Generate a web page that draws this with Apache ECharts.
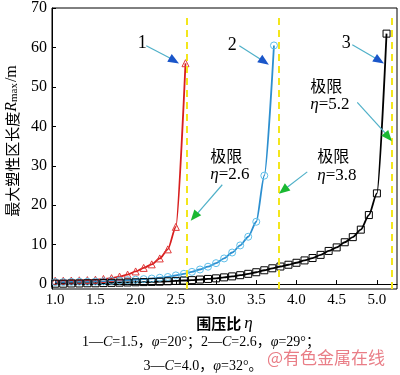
<!DOCTYPE html>
<html>
<head>
<meta charset="utf-8">
<script src="https://cdn.jsdelivr.net/npm/echarts@6/dist/echarts.min.js"></script>
<style>
  html, body { margin: 0; padding: 0; background: #fff; }
  #chart { width: 400px; height: 375px; }
</style>
</head>
<body>
<div id="chart"></div>
<script>
// curve 1: C=1.5, phi=20
const etaRed = [1.0, 1.1, 1.2, 1.3, 1.4, 1.5, 1.6, 1.7, 1.8, 1.9, 2.0, 2.1, 2.2, 2.3, 2.4, 2.5, 2.62];
const rRed = [0.85, 0.85, 0.9, 0.95, 1.0, 1.1, 1.3, 1.5, 1.9, 2.4, 3.2, 4.1, 5.0, 6.5, 8.8, 14.5, 56];

// curve 2: C=2.6, phi=29
const etaBlue = [1.0, 1.1, 1.2, 1.3, 1.4, 1.5, 1.6, 1.7, 1.8, 1.9,
  2.0, 2.1, 2.2, 2.3, 2.4, 2.5, 2.6, 2.7, 2.8, 2.9,
  3.0, 3.1, 3.2, 3.3, 3.4, 3.5, 3.6, 3.72];
const rBlue = [0.5, 0.5, 0.55, 0.6, 0.6, 0.65, 0.7, 0.8, 0.9, 1.0,
  1.1, 1.25, 1.4, 1.6, 1.8, 2.2, 2.6, 3.1, 3.7, 4.4,
  5.3, 6.5, 8.0, 9.8, 12.0, 15.8, 27.5, 60.5];

// curve 3: C=4.0, phi=32
const etaBlack = [1.0, 1.1, 1.2, 1.3, 1.4, 1.5, 1.6, 1.7, 1.8, 1.9,
  2.0, 2.1, 2.2, 2.3, 2.4, 2.5, 2.6, 2.7, 2.8, 2.9,
  3.0, 3.1, 3.2, 3.3, 3.4, 3.5, 3.6, 3.7, 3.8, 3.9,
  4.0, 4.1, 4.2, 4.3, 4.4, 4.5, 4.6, 4.7, 4.8, 4.9,
  5.0, 5.12];
const rBlack = [0.1, 0.1, 0.15, 0.15, 0.2, 0.2, 0.25, 0.3, 0.35, 0.4,
  0.45, 0.5, 0.55, 0.6, 0.7, 0.8, 0.9, 1.0, 1.15, 1.3,
  1.45, 1.7, 1.95, 2.25, 2.6, 3.0, 3.5, 4.0, 4.45, 4.9,
  5.4, 6.0, 6.6, 7.4, 8.4, 9.3, 10.6, 11.9, 13.8, 17.5,
  23.0, 63.5];

// limit lines
const limitEta = [2.63, 3.78, 5.18];
const limitText = ['2.6', '3.8', '5.2'];

const xTicks = [1.0, 1.5, 2.0, 2.5, 3.0, 3.5, 4.0, 4.5, 5.0];
const yTicks = [0, 10, 20, 30, 40, 50, 60, 70];

const serif = '"Liberation Serif", "DejaVu Serif", serif';
const cjk = '"Noto Sans CJK SC", sans-serif';
const mixed = '"Liberation Serif", "Noto Sans CJK SC", serif';

const zip = (xs, ys) => xs.map((x, i) => [x, ys[i]]);

const curve = (name, xs, ys, color, markerColor, symbol) => ({
  name: name,
  type: 'line',
  data: zip(xs, ys),
  smooth: 0.25,
  smoothMonotone: 'x',
  symbol: symbol,
  symbolSize: 7,
  lineStyle: { color: color, width: 1.8 },
  itemStyle: { color: 'rgba(0,0,0,0)', borderColor: markerColor, borderWidth: 1 },
  z: 3,
});

const arrowLines = [
  [[2.132, 60.42], [2.443, 57.15]],
  [[3.289, 60.42], [3.562, 56.9]],
  [[4.694, 60.67], [4.993, 57.15]],
  [[3.077, 25.18], [2.766, 17.87]],
  [[4.134, 28.45], [3.861, 24.17]],
  [[4.756, 46.07], [5.104, 38.27]],
];
const arrowHeads = [
  { coord: [2.480, 56.65], rot: -120, color: '#1a56c9' },
  { coord: [3.600, 56.4], rot: -124, color: '#1a56c9' },
  { coord: [5.030, 56.65], rot: -122, color: '#1a56c9' },
  { coord: [2.729, 17.12], rot: 140, color: '#19b832' },
  { coord: [3.836, 23.79], rot: 128, color: '#19b832' },
  { coord: [5.142, 37.26], rot: -140, color: '#19b832' },
];
const numLabels = [
  { coord: [2.082, 61.18], text: '1' },
  { coord: [3.201, 60.67], text: '2' },
  { coord: [4.619, 61.18], text: '3' },
];
const limitLabelPos = [[2.928, 30.2], [4.259, 29.96], [4.172, 47.83]];

const option = {
  backgroundColor: '#fff',
  animation: false,
  grid: {
    left: 52, right: 3, top: 6, bottom: 86,
    show: true, borderColor: '#000', borderWidth: 1, backgroundColor: '#fff',
  },
  xAxis: {
    type: 'value',
    min: 0.96, max: 5.25,
    splitLine: { show: false },
    axisLine: { lineStyle: { color: '#000', width: 1 } },
    axisTick: { inside: true, length: 4, customValues: xTicks, lineStyle: { color: '#000' } },
    axisLabel: {
      customValues: xTicks, margin: 4, color: '#000', fontFamily: serif, fontSize: 15,
      formatter: v => v.toFixed(1),
    },
    name: '{a|围压比}{i|η}',
    nameLocation: 'middle',
    nameGap: 26,
    nameTextStyle: {
      rich: {
        a: { fontFamily: cjk, fontSize: 15, fontWeight: 'bold', color: '#000' },
        i: { fontFamily: serif, fontSize: 17, fontStyle: 'italic', color: '#000', padding: [0, 0, 0, 3] },
      },
    },
  },
  yAxis: {
    type: 'value',
    min: -1.25, max: 70,
    splitLine: { show: false },
    axisLine: { show: true, lineStyle: { color: '#000', width: 1 } },
    axisTick: { show: true, inside: true, length: 4, customValues: yTicks, lineStyle: { color: '#000' } },
    axisLabel: { customValues: yTicks, margin: 5, color: '#000', fontFamily: serif, fontSize: 16 },
  },
  series: [
    curve('1', etaRed, rRed, '#d81e1e', '#e03a3a', 'triangle'),
    curve('2', etaBlue, rBlue, '#2c8fd0', '#5fc0ea', 'circle'),
    curve('3', etaBlack, rBlack, '#000', '#000', 'rect'),
    {
      name: 'notes',
      type: 'line',
      data: [],
      silent: true,
      z: 4,
      markLine: {
        silent: true,
        animation: false,
        symbol: ['none', 'none'],
        label: { show: false },
        data: limitEta.map(e => [
          { coord: [e, -1.25], lineStyle: { color: '#f3e61c', width: 2, type: [7, 5] } },
          { coord: [e, 68.5] },
        ]).concat(arrowLines.map(l => [
          { coord: l[0], lineStyle: { color: '#4fb0c8', width: 1.2, type: 'solid' } },
          { coord: l[1] },
        ])),
      },
      markPoint: {
        silent: true,
        animation: false,
        data: arrowHeads.map(h => ({
          coord: h.coord,
          symbol: 'triangle',
          symbolSize: [9, 11],
          symbolRotate: h.rot,
          itemStyle: { color: h.color },
          label: { show: false },
        })).concat(numLabels.map(n => ({
          coord: n.coord,
          symbol: 'circle',
          symbolSize: 0,
          label: {
            show: true, position: 'inside', formatter: n.text,
            color: '#000', fontFamily: serif, fontSize: 18,
          },
        }))).concat(limitLabelPos.map((p, i) => ({
          coord: p,
          symbol: 'circle',
          symbolSize: 0,
          label: {
            show: true, position: 'right', distance: 0,
            formatter: '{c|极限}\n{i|η}{n|=' + limitText[i] + '}',
            rich: {
              c: { fontFamily: cjk, fontSize: 16, color: '#000', lineHeight: 19 },
              i: { fontFamily: serif, fontSize: 17, fontStyle: 'italic', color: '#000', lineHeight: 19 },
              n: { fontFamily: serif, fontSize: 17, color: '#000', lineHeight: 19 },
            },
          },
        }))),
      },
    },
  ],
  graphic: [
    {
      type: 'text',
      x: 12, y: 141,
      rotation: Math.PI / 2,
      style: {
        text: '{a|最大塑性区长度}{i|R}{s|max}{m|/m}',
        align: 'center', verticalAlign: 'middle',
        rich: {
          a: { fontFamily: cjk, fontSize: 15, fill: '#000' },
          i: { fontFamily: serif, fontSize: 16, fontStyle: 'italic', fill: '#000' },
          s: { fontFamily: serif, fontSize: 11, fill: '#000', verticalAlign: 'bottom', padding: [5, 1, 0, 0] },
          m: { fontFamily: serif, fontSize: 16, fill: '#000' },
        },
      },
    },
    {
      type: 'text',
      x: 201, y: 342,
      style: {
        text: '{n|1—}{i|C}{n|=1.5，}{i|φ}{n|=20°；2—}{i|C}{n|=2.6，}{i|φ}{n|=29°；}',
        align: 'center', verticalAlign: 'middle',
        rich: {
          n: { fontFamily: mixed, fontSize: 14, fill: '#000' },
          i: { fontFamily: serif, fontSize: 14, fontStyle: 'italic', fill: '#000' },
        },
      },
    },
    {
      type: 'text',
      x: 203, y: 366,
      style: {
        text: '{n|3—}{i|C}{n|=4.0，}{i|φ}{n|=32°。}',
        align: 'center', verticalAlign: 'middle',
        rich: {
          n: { fontFamily: mixed, fontSize: 14, fill: '#000' },
          i: { fontFamily: serif, fontSize: 14, fontStyle: 'italic', fill: '#000' },
        },
      },
    },
    {
      type: 'text',
      x: 326, y: 358,
      z: 10,
      style: {
        text: '@有色金属在线',
        align: 'center', verticalAlign: 'middle',
        fontFamily: cjk, fontSize: 17,
        fill: 'rgba(228,92,104,0.8)',
      },
    },
  ],
};

const chart = echarts.init(document.getElementById('chart'));
chart.setOption(option);
</script>
</body>
</html>
